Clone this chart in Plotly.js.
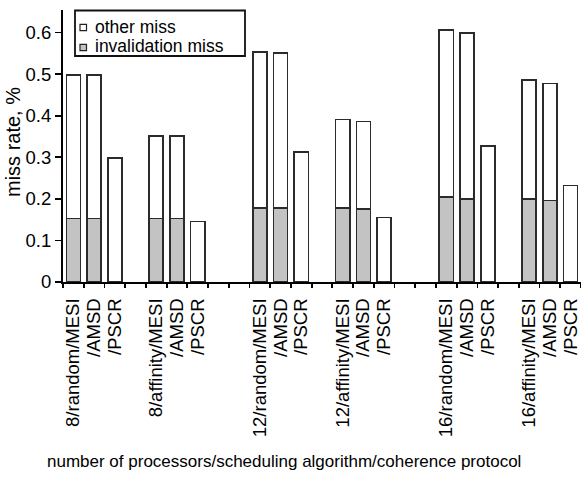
<!DOCTYPE html>
<html>
<head>
<meta charset="utf-8">
<script src="https://cdn.plot.ly/plotly-3.0.1.min.js"></script>
<style>
  html, body { margin: 0; padding: 0; background: #fff; }
  #chart { width: 581px; height: 477px; }
</style>
</head>
<body>
<div id="chart"></div>
<script>
// Scheduling configurations (processors/scheduling algorithm) and coherence protocols
const groups = ["8/random", "8/affinity", "12/random", "12/affinity", "16/random", "16/affinity"];
const protocols = ["MESI", "AMSD", "PSCR"];

// Miss rate (%) split into invalidation misses and all other misses, per group x protocol
const invalidationMiss = [
  0.153, 0.153, 0.000,
  0.153, 0.153, 0.000,
  0.178, 0.178, 0.000,
  0.178, 0.175, 0.000,
  0.204, 0.200, 0.000,
  0.199, 0.196, 0.000
];
const otherMiss = [
  0.345, 0.345, 0.298,
  0.198, 0.198, 0.145,
  0.375, 0.372, 0.313,
  0.213, 0.211, 0.155,
  0.402, 0.398, 0.327,
  0.287, 0.281, 0.232
];

const seriesNames = ["other miss", "invalidation miss"];
const yTicks = [0, 0.1, 0.2, 0.3, 0.4, 0.5, 0.6];
const xTitle = "number of processors/scheduling algorithm/coherence protocol";
const yTitle = "miss rate, %";

// Slot positions along the x axis: one empty slot between the random/affinity pair,
// two empty slots between processor counts.
const xPos = [], xLabels = [];
let slot = -1;
groups.forEach((g, gi) => {
  if (gi > 0) slot += (gi % 2 === 1) ? 1 : 2;
  protocols.forEach((p, pi) => {
    slot += 1;
    xPos.push(slot);
    xLabels.push(pi === 0 ? g + "/" + p : "/" + p);
  });
});
const lastSlot = slot;
const boundaries = [];
for (let b = -0.5; b <= lastSlot + 0.5; b += 1) boundaries.push(b);

const W = 581, H = 477;
const M = { l: 63, r: 0, t: 10, b: 195 };
const plotW = W - M.l - M.r, plotH = H - M.t - M.b;
const px = x => (x - M.l) / plotW;          // pixel -> paper x
const py = y => (H - M.b - y) / plotH;      // pixel -> paper y

const FONT = "Liberation Sans, Arial, sans-serif";
const outline = { color: "#2b2b2b", width: 1.6 };

const traces = [
  {
    type: "bar", name: seriesNames[1], x: xPos, y: invalidationMiss,
    marker: { color: "#c3c3c3", line: outline }, showlegend: false, hoverinfo: "skip"
  },
  {
    type: "bar", name: seriesNames[0], x: xPos, y: otherMiss,
    marker: { color: "#ffffff", line: outline }, showlegend: false, hoverinfo: "skip"
  },
  // invisible carrier for the boundary tick marks
  { type: "scatter", x: [xPos[0]], y: [0], xaxis: "x2", mode: "none", showlegend: false, hoverinfo: "skip" }
];

// Legend box drawn in paper space
const legendBox = { x0: 75, x1: 245, y0: 10.5, y1: 56 };
const legendRows = [
  { name: seriesNames[0], fill: "#ffffff", cy: 26.5 },
  { name: seriesNames[1], fill: "#c3c3c3", cy: 46.5 }
];
const shapes = [{
  type: "rect", xref: "paper", yref: "paper",
  x0: px(legendBox.x0), x1: px(legendBox.x1), y0: py(legendBox.y1), y1: py(legendBox.y0),
  line: { color: "#111", width: 1.8 }, fillcolor: "#fff", layer: "above"
}];
const annotations = [];
legendRows.forEach(r => {
  shapes.push({
    type: "rect", xref: "paper", yref: "paper",
    x0: px(80), x1: px(86.5), y0: py(r.cy + 4.2), y1: py(r.cy - 2.2),
    line: { color: "#222", width: 1.2 }, fillcolor: r.fill, layer: "above"
  });
  annotations.push({
    xref: "paper", yref: "paper", x: px(95), y: py(r.cy),
    xanchor: "left", yanchor: "middle", showarrow: false, text: r.name,
    borderpad: 0, borderwidth: 0,
    font: { family: FONT, size: 17.5, color: "#000" }
  });
});
annotations.push({
  xref: "paper", yref: "paper", x: px(284), y: py(461),
  xanchor: "center", yanchor: "middle", showarrow: false, text: xTitle,
  font: { family: FONT, size: 17, color: "#000" }
});
annotations.push({
  xref: "paper", yref: "paper", x: px(13), y: py(142), textangle: -90,
  xanchor: "center", yanchor: "middle", showarrow: false, text: yTitle,
  font: { family: FONT, size: 20, color: "#000" }
});

const layout = {
  width: W, height: H,
  margin: M,
  paper_bgcolor: "#fff", plot_bgcolor: "#fff",
  barmode: "stack", bargap: 0.32,
  showlegend: false,
  font: { family: FONT, size: 18, color: "#000" },
  xaxis: {
    range: [-0.5, lastSlot + 0.5], fixedrange: true,
    tickmode: "array", tickvals: xPos, ticktext: xLabels, tickangle: -90,
    ticks: "outside", ticklen: 7, tickcolor: "rgba(0,0,0,0)",
    tickfont: { family: FONT, size: 18.5, color: "#000" },
    showline: true, linecolor: "#000", linewidth: 2,
    showgrid: false, zeroline: false
  },
  xaxis2: {
    overlaying: "x", anchor: "y", side: "bottom",
    range: [-0.5, lastSlot + 0.5], fixedrange: true,
    tickmode: "array", tickvals: boundaries, showticklabels: false,
    ticks: "outside", ticklen: 5, tickwidth: 1.8, tickcolor: "#000",
    showline: false, showgrid: false, zeroline: false
  },
  yaxis: {
    range: [0, 0.654], fixedrange: true,
    tickmode: "array", tickvals: yTicks, ticktext: yTicks.map(v => String(v)),
    ticks: "outside", ticklen: 6, tickwidth: 1.8, tickcolor: "#000",
    tickfont: { family: FONT, size: 18.5, color: "#000" },
    showline: true, linecolor: "#000", linewidth: 2,
    showgrid: false, zeroline: false
  },
  shapes: shapes,
  annotations: annotations
};

Plotly.newPlot("chart", traces, layout, { staticPlot: true, displayModeBar: false });
</script>
</body>
</html>
